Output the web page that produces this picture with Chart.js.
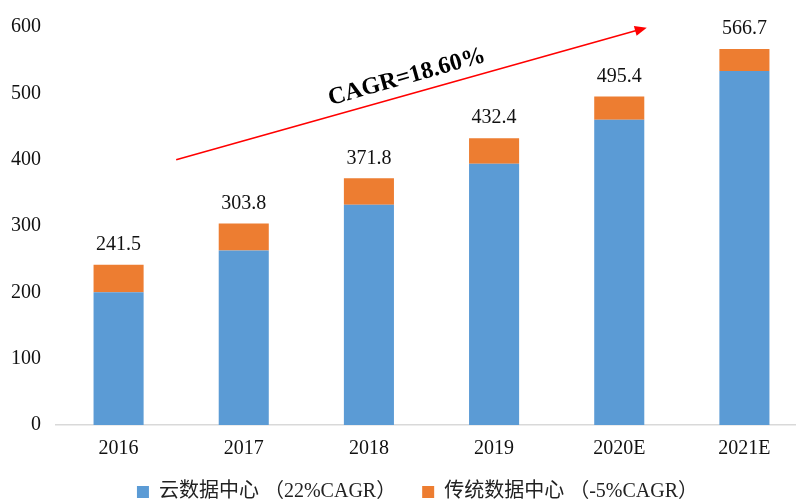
<!DOCTYPE html>
<html>
<head>
<meta charset="utf-8">
<script src="https://cdn.jsdelivr.net/npm/chart.js@4/dist/chart.umd.min.js"></script>
<style>
  html, body { margin: 0; padding: 0; background: #fff; overflow: hidden; }
  #wrap { width: 812px; height: 512px; }
</style>
</head>
<body>
<div id="wrap"><canvas id="chart"></canvas></div>
<script>
const years = ["2016", "2017", "2018", "2019", "2020E", "2021E"];
const cloud = [200, 263, 332, 394, 460, 533.7];
const traditional = [41.5, 40.8, 39.8, 38.4, 35.4, 33.0];
const totals = ["241.5", "303.8", "371.8", "432.4", "495.4", "566.7"];
const yTicks = [0, 100, 200, 300, 400, 500, 600];
const cagrText = "CAGR=18.60%";
// arrow ends in (category index, value) terms
const arrowFrom = { index: 0.46, value: 400 };
const arrowTo = { index: 4.22, value: 599 };

const serif = '"Liberation Serif", "Times New Roman", "Noto Sans CJK SC", serif';

const extras = {
  id: "extras",
  afterLayout(chart) {
    // the legend sits a little right of the canvas centre
    if (chart.legend) { chart.legend.left += 9; chart.legend.right += 9; }
  },
  afterDatasetsDraw(chart) {
    const { ctx, scales: { x, y } } = chart;
    const step = x.getPixelForValue(1) - x.getPixelForValue(0);
    ctx.save();
    // totals above bars
    ctx.font = "20px " + serif;
    ctx.fillStyle = "#111";
    ctx.textAlign = "center";
    ctx.textBaseline = "middle";
    years.forEach((_, i) => {
      const v = cloud[i] + traditional[i];
      ctx.fillText(totals[i], x.getPixelForValue(i), y.getPixelForValue(v) - 20);
    });
    // growth arrow
    const x1 = x.getPixelForValue(0) + arrowFrom.index * step;
    const y1 = y.getPixelForValue(arrowFrom.value);
    const x2 = x.getPixelForValue(0) + arrowTo.index * step;
    const y2 = y.getPixelForValue(arrowTo.value);
    const ang = Math.atan2(y2 - y1, x2 - x1);
    ctx.strokeStyle = "#ff0000";
    ctx.fillStyle = "#ff0000";
    ctx.lineWidth = 1.6;
    ctx.beginPath();
    ctx.moveTo(x1, y1);
    ctx.lineTo(x2 - 8 * Math.cos(ang), y2 - 8 * Math.sin(ang));
    ctx.stroke();
    ctx.beginPath();
    ctx.moveTo(x2, y2);
    ctx.lineTo(x2 - 12 * Math.cos(ang) + 5 * Math.sin(ang), y2 - 12 * Math.sin(ang) - 5 * Math.cos(ang));
    ctx.lineTo(x2 - 12 * Math.cos(ang) - 5 * Math.sin(ang), y2 - 12 * Math.sin(ang) + 5 * Math.cos(ang));
    ctx.closePath();
    ctx.fill();
    // label on the arrow
    const mx = x1 + (x2 - x1) * 0.5;
    const my = y1 + (y2 - y1) * 0.5;
    ctx.translate(mx, my);
    ctx.rotate(ang);
    ctx.font = "bold 24px " + serif;
    ctx.fillStyle = "#000";
    ctx.textAlign = "center";
    ctx.textBaseline = "bottom";
    ctx.fillText(cagrText, 0, -5);
    ctx.restore();
  }
};

new Chart(document.getElementById("chart"), {
  type: "bar",
  data: {
    labels: years,
    datasets: [
      { label: "云数据中心 （22%CAGR）", data: cloud, backgroundColor: "#5B9BD5" },
      { label: "传统数据中心 （-5%CAGR）", data: traditional, backgroundColor: "#ED7D31" }
    ]
  },
  options: {
    responsive: true,
    maintainAspectRatio: false,
    animation: false,
    layout: { padding: { top: 14, left: 10, right: 5, bottom: 0 } },
    datasets: { bar: { categoryPercentage: 1, barPercentage: 0.4 } },
    scales: {
      x: {
        stacked: true,
        afterFit: (s) => { s.height = 31; },
        grid: { display: false, drawTicks: false },
        border: { color: "#d9d9d9", width: 1.5 },
        ticks: { color: "#111", font: { family: serif, size: 20 }, padding: 12 }
      },
      y: {
        stacked: true,
        min: 0,
        max: 600,
        afterBuildTicks: (s) => { s.ticks = yTicks.map(v => ({ value: v })); },
        afterFit: (s) => { s.width = 46; },
        grid: { display: false, drawTicks: false },
        border: { display: false },
        ticks: { color: "#111", font: { family: serif, size: 20 }, padding: 15 }
      }
    },
    plugins: {
      legend: {
        position: "bottom",
        labels: {
          color: "#222",
          font: { family: serif, size: 20 },
          boxWidth: 12,
          boxHeight: 12,
          padding: 26
        }
      },
      tooltip: { enabled: false }
    }
  },
  plugins: [extras]
});
</script>
</body>
</html>
